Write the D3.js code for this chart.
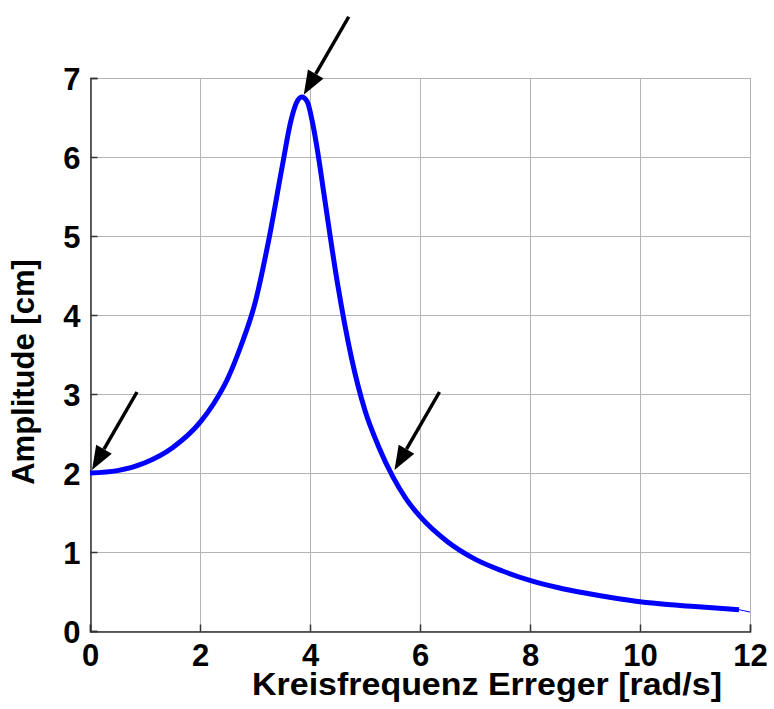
<!DOCTYPE html>
<html>
	<head>
		<meta charset="utf-8">
		<title> Amplitude </title>
		<script src="https://cdnjs.cloudflare.com/ajax/libs/d3/7.8.5/d3.min.js"></script>
		<style>
			body { margin: 0; background: #fff; }
			text { font-family: "Liberation Sans", Arial, sans-serif; font-weight: bold; fill: #000; }
		</style>
	</head>

	<body>
		<script>

		// values
		let freq = [0, 0.5, 1, 1.5, 2, 2.25, 2.5, 2.75, 3, 3.25, 3.5, 3.65, 3.75, 3.85, 3.95, 4.05, 4.15, 4.25,
			4.5, 4.75, 5, 5.25, 5.5, 5.75, 6, 6.5, 7, 7.5, 8, 8.5, 9, 9.5, 10, 10.5, 11, 11.5, 11.8, 12];
		let amp = [2.00, 2.03, 2.13, 2.32, 2.64, 2.88, 3.19, 3.62, 4.15, 4.95, 5.9, 6.45, 6.68, 6.76, 6.7, 6.42, 6.02, 5.55,
			4.40, 3.47, 2.79, 2.33, 1.96, 1.67, 1.45, 1.13, 0.91, 0.76, 0.64, 0.55, 0.48, 0.42, 0.37, 0.335, 0.31, 0.285, 0.27, 0.24];

		let xTicks = [0, 2, 4, 6, 8, 10, 12];
		let yTicks = [0, 1, 2, 3, 4, 5, 6, 7];

		// arrow annotations point at these data points
		let arrowX = [0, 3.85, 5.5];
		let arrowY = [2.0, 6.75, 2.0];

		let width = 774,
			height = 709,
			padL = 90, padR = 750, padT = 78, padB = 631;

		let xScale = d3.scaleLinear().domain([0, 12]).range([padL, padR]);
		let yScale = d3.scaleLinear().domain([0, 7]).range([padB, padT]);

		let svg = d3.select('body')
					.append('svg')
					.attr('width', width)
					.attr('height', height);

		// grid
		svg.append('g')
			.selectAll('line')
			.data(xTicks)
			.enter()
			.append('line')
			.attr('x1', d => Math.round(xScale(d)) + 0.5)
			.attr('x2', d => Math.round(xScale(d)) + 0.5)
			.attr('y1', padT)
			.attr('y2', padB)
			.attr('stroke', '#b4b4b4')
			.attr('stroke-width', 1);

		svg.append('g')
			.selectAll('line')
			.data(yTicks)
			.enter()
			.append('line')
			.attr('x1', padL)
			.attr('x2', padR)
			.attr('y1', d => Math.round(yScale(d)) + 0.5)
			.attr('y2', d => Math.round(yScale(d)) + 0.5)
			.attr('stroke', '#b4b4b4')
			.attr('stroke-width', 1);

		// axes (left + bottom dark, inward ticks)
		let xAxis = d3.axisBottom(xScale).tickValues(xTicks).tickFormat(d3.format('d')).tickSize(-7).tickPadding(13);
		let yAxis = d3.axisLeft(yScale).tickValues(yTicks).tickFormat(d3.format('d')).tickSize(-7).tickPadding(10);

		let gx = svg.append('g')
			.attr('transform', 'translate(0,' + (padB + 0.5) + ')')
			.call(xAxis);
		let gy = svg.append('g')
			.attr('transform', 'translate(' + (padL + 0.5) + ',0)')
			.call(yAxis);

		[gx, gy].forEach(g => {
			g.select('.domain').attr('stroke', '#333').attr('stroke-width', 1.5);
			g.selectAll('.tick line').attr('stroke', '#333').attr('stroke-width', 1.5);
			g.selectAll('.tick text')
				.attr('font-family', '"Liberation Sans", Arial, sans-serif')
				.attr('font-weight', 'bold')
				.attr('font-size', 31)
				.attr('fill', '#000');
		});
		gx.selectAll('.tick text').attr('dy', '0.7em');
		gy.selectAll('.tick text').attr('dy', '0.36em');

		// curve: thick part, then a thin last segment
		let n = freq.length;
		let curve = d3.line()
			.x(i => xScale(freq[i]))
			.y(i => yScale(amp[i]))
			.curve(d3.curveMonotoneX);

		svg.append('path')
			.datum(d3.range(n - 1))
			.attr('d', curve)
			.attr('fill', 'none')
			.attr('stroke', '#0000ff')
			.attr('stroke-width', 5)
			.attr('stroke-linejoin', 'round');

		svg.append('path')
			.datum([n - 2, n - 1])
			.attr('d', curve)
			.attr('fill', 'none')
			.attr('stroke', '#0000ff')
			.attr('stroke-width', 1);

		// arrows
		let arrows = svg.append('g');
		arrowX.forEach((ax, i) => {
			let tx = xScale(ax) + 2,
				ty = yScale(arrowY[i]) - 3,
				sx = tx + 45,
				sy = ty - 78;
			let len = Math.hypot(tx - sx, ty - sy),
				ux = (tx - sx) / len,
				uy = (ty - sy) / len;
			let headLen = 24, headW = 9;
			let bx = tx - ux * headLen,
				by = ty - uy * headLen;
			arrows.append('line')
				.attr('x1', sx).attr('y1', sy)
				.attr('x2', bx).attr('y2', by)
				.attr('stroke', '#000')
				.attr('stroke-width', 3.5);
			arrows.append('polygon')
				.attr('points', [
					[tx, ty],
					[bx - uy * headW, by + ux * headW],
					[bx + uy * headW, by - ux * headW]
				].map(p => p.join(',')).join(' '))
				.attr('fill', '#000');
		});

		// labels
		svg.append('text')
			.attr('x', 252)
			.attr('y', 695)
			.attr('font-size', 32)
			.attr('textLength', 470)
			.attr('lengthAdjust', 'spacingAndGlyphs')
			.text('Kreisfrequenz Erreger [rad/s]');

		svg.append('text')
			.attr('transform', 'translate(34,372) rotate(-90)')
			.attr('text-anchor', 'middle')
			.attr('font-size', 31)
			.text('Amplitude [cm]');

		</script>
	</body>
</html>
